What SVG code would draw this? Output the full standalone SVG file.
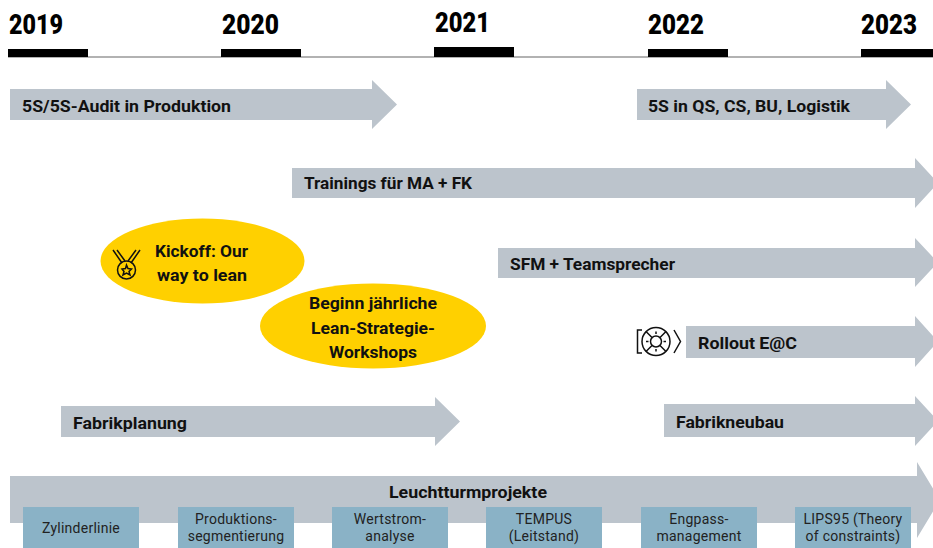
<svg xmlns="http://www.w3.org/2000/svg" width="933" height="548" viewBox="0 0 933 548">
<style>
text{font-family:"Roboto","Liberation Sans",sans-serif;fill:#111}
.y{font-size:27px;font-weight:900;fill:#000}
.l{font-size:17px;font-weight:700}
.s{font-size:14px;font-weight:400;text-anchor:middle;letter-spacing:.25px;fill:#222}
.a{fill:#bcc4cc}.b{fill:#8ab2c6}.e{fill:#ffd000}.k{fill:#000}
.i{fill:none;stroke:#111;stroke-width:1.5}
</style>
<rect width="933" height="548" fill="#fff"/>
<g id="timeline">
<path d="M8 57H933" stroke="#666" stroke-width="1.2"/>
<rect class="k" x="8" y="49" width="80" height="8"/><rect class="k" x="221" y="49" width="80" height="8"/><rect class="k" x="434" y="47" width="80" height="10"/><rect class="k" x="648" y="49" width="80" height="8"/><rect class="k" x="861" y="49" width="72" height="8"/>
<text class="y" x="9" y="34" textLength="54" lengthAdjust="spacingAndGlyphs">2019</text><text class="y" x="222" y="34" textLength="57" lengthAdjust="spacingAndGlyphs">2020</text><text class="y" x="435" y="32" textLength="55" lengthAdjust="spacingAndGlyphs">2021</text><text class="y" x="648" y="34" textLength="56" lengthAdjust="spacingAndGlyphs">2022</text><text class="y" x="861" y="34" textLength="56" lengthAdjust="spacingAndGlyphs">2023</text>
</g>
<g id="connectors">
<path class="a" d="M10 89H372V80L397 104.500L372 129V120H10Z"/>
<path class="a" d="M637 89H886V80L911 104.500L886 129V120H637Z"/>
<path class="a" d="M292 168H915V158L938 183L915 208V198H292Z"/>
<path class="a" d="M498 248H915V238L938 262.500L915 287V278H498Z"/>
<path class="a" d="M686 326H915V316L938 341.500L915 367V358H686Z"/>
<path class="a" d="M664 404H915V396L938 421L915 446V437H664Z"/>
<path class="a" d="M61 406H435V397L460 421.500L435 446V437H61Z"/>
<path class="a" d="M10 476H917V462L940 500L917 538V523H10Z"/>
</g>
<g id="n-5s"><text class="l" x="22" y="112" textLength="209" lengthAdjust="spacingAndGlyphs">5S/5S-Audit in Produktion</text></g>
<g id="n-5sqs"><text class="l" x="648" y="112" textLength="202" lengthAdjust="spacingAndGlyphs">5S in QS, CS, BU, Logistik</text></g>
<g id="n-train"><text class="l" x="304" y="189" textLength="168" lengthAdjust="spacingAndGlyphs">Trainings für MA + FK</text></g>
<g id="n-sfm"><text class="l" x="510" y="270" textLength="165" lengthAdjust="spacingAndGlyphs">SFM + Teamsprecher</text></g>
<g id="n-rollout"><text class="l" x="698" y="349" textLength="99" lengthAdjust="spacingAndGlyphs">Rollout E@C</text>
<g class="i"><path d="M642 330H637.500V353H642M674 330L680.500 341.500L674 353"/><circle cx="656" cy="341.500" r="14"/><circle cx="656" cy="341.500" r="5.500"/><path d="M656 331.500V334M656 349V351.500M646 341.500H648.500M663.500 341.500H666M646 331.500L652 337.500M660 345.500L666 351.500M666 331.500L660 337.500M652 345.500L646 351.500"/></g></g>
<g id="n-neubau"><text class="l" x="676" y="428" textLength="108" lengthAdjust="spacingAndGlyphs">Fabrikneubau</text></g>
<g id="n-planung"><text class="l" x="73" y="429" textLength="114" lengthAdjust="spacingAndGlyphs">Fabrikplanung</text></g>
<g id="n-kickoff"><ellipse class="e" cx="202.500" cy="261" rx="102" ry="42.500"/>
<g class="i"><path d="M113 250L122 263M117 250L125 261M140 250L131 263M136 250L128 261"/><circle cx="126.500" cy="270" r="9"/><path d="M126.500 265L128 268.500L131.500 269L129 271.500L130 275L126.500 273L123 275L124 271.500L122 269L125.500 268.500Z"/></g>
<text class="l" x="155" y="257" textLength="93" lengthAdjust="spacingAndGlyphs">Kickoff: Our</text><text class="l" x="157" y="281" textLength="90" lengthAdjust="spacingAndGlyphs">way to lean</text></g>
<g id="n-workshop"><ellipse class="e" cx="373" cy="326" rx="113" ry="42.500"/>
<text class="l" x="309" y="309" textLength="128" lengthAdjust="spacingAndGlyphs">Beginn jährliche</text><text class="l" x="311" y="334" textLength="124" lengthAdjust="spacingAndGlyphs">Lean-Strategie-</text><text class="l" x="329" y="358" textLength="88" lengthAdjust="spacingAndGlyphs">Workshops</text></g>
<g id="n-leucht"><text class="l" x="389" y="498" textLength="158" lengthAdjust="spacingAndGlyphs">Leuchtturmprojekte</text></g>
<g id="n-zyl"><rect class="b" x="23" y="507" width="116" height="41"/><text class="s" x="81" y="533">Zylinderlinie</text></g>
<g id="n-prod"><rect class="b" x="178" y="507" width="116" height="41"/><text class="s" x="236" y="524">Produktions-</text><text class="s" x="236" y="541">segmentierung</text></g>
<g id="n-wert"><rect class="b" x="332" y="507" width="116" height="41"/><text class="s" x="390" y="524">Wertstrom-</text><text class="s" x="390" y="541">analyse</text></g>
<g id="n-tempus"><rect class="b" x="486" y="507" width="116" height="41"/><text class="s" x="544" y="524">TEMPUS</text><text class="s" x="544" y="541">(Leitstand)</text></g>
<g id="n-eng"><rect class="b" x="641" y="507" width="116" height="41"/><text class="s" x="699" y="524">Engpass-</text><text class="s" x="699" y="541">management</text></g>
<g id="n-lips"><rect class="b" x="795" y="507" width="116" height="41"/><text class="s" x="853" y="524">LIPS95 (Theory</text><text class="s" x="853" y="541">of constraints)</text></g>
</svg>
